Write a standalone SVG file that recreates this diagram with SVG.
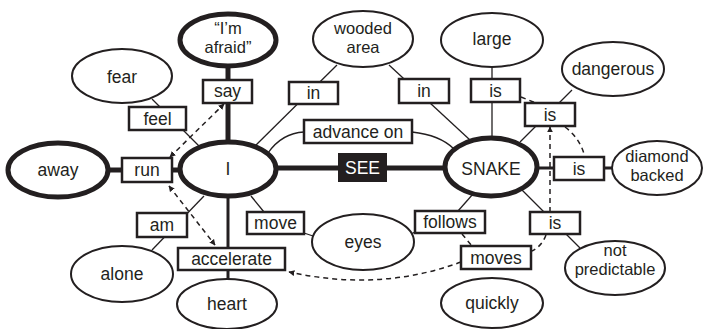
<svg xmlns="http://www.w3.org/2000/svg" width="704" height="329" viewBox="0 0 704 329">
<style>
text{font-family:"Liberation Sans",Arial,sans-serif;font-size:17.5px;fill:#231f20;text-anchor:middle}
text.two{font-size:16.5px}
.thin{fill:#fff;stroke:#231f20;stroke-width:2}
.thick{fill:#fff;stroke:#231f20;stroke-width:5}
.box{fill:#fff;stroke:#231f20;stroke-width:2.5}
.l{stroke:#231f20;stroke-width:1.3;fill:none}
.lm{stroke:#231f20;stroke-width:3;fill:none}
.lt{stroke:#231f20;stroke-width:5;fill:none}
.d{stroke:#231f20;stroke-width:1.5;fill:none;stroke-dasharray:5 4}
</style>
<defs>
<marker id="ah" viewBox="0 0 10 10" refX="9" refY="5" markerWidth="6" markerHeight="6" orient="auto-start-reverse" markerUnits="userSpaceOnUse">
<path d="M0,0 L10,5 L0,10 z" fill="#231f20"/>
</marker>
</defs>
<rect width="704" height="329" fill="#fff"/>
<g id="connectors">
<line class="lt" x1="108" y1="170" x2="180" y2="170"/>
<line class="lt" x1="276" y1="168" x2="445" y2="168"/>
<line class="lt" x1="228" y1="66" x2="228" y2="142"/>
<line class="lm" x1="228" y1="196" x2="228" y2="280"/>
<line class="lm" x1="537" y1="168" x2="612" y2="168"/>
<line class="l" x1="152" y1="99" x2="200" y2="147"/>
<line class="l" x1="337" y1="65" x2="255" y2="146"/>
<line class="l" x1="389" y1="65" x2="470" y2="140"/>
<line class="l" x1="492" y1="67" x2="492" y2="139"/>
<line class="l" x1="572" y1="90" x2="520" y2="142"/>
<path class="l" d="M268,153 Q282,133 304,132"/>
<path class="l" d="M412,132 Q440,135 454,149"/>
<line class="l" x1="473" y1="194" x2="458" y2="211"/>
<line class="l" x1="415" y1="232" x2="409" y2="235"/>
<line class="l" x1="522" y1="190" x2="580" y2="248"/>
<line class="l" x1="204" y1="196" x2="152" y2="250"/>
<line class="l" x1="251" y1="196" x2="264" y2="212"/>
<line class="l" x1="304" y1="233" x2="313" y2="236"/>
<line class="d" x1="170" y1="157" x2="224" y2="104" marker-start="url(#ah)" marker-end="url(#ah)"/>
<line class="d" x1="169" y1="186" x2="215" y2="245" marker-start="url(#ah)" marker-end="url(#ah)"/>
<path class="d" d="M461,262 Q380,292 289,272" marker-end="url(#ah)"/>
<line class="d" x1="462" y1="234" x2="472" y2="246"/>
<path class="d" d="M546,235 Q542,246 532,251"/>
<line class="d" x1="550" y1="212" x2="550" y2="127" marker-end="url(#ah)"/>
<line class="d" x1="521" y1="97" x2="536" y2="103"/>
<path class="d" d="M565,127 Q580,138 585,157"/>
</g>
<g id="node-afraid"><ellipse class="thick" cx="228" cy="40" rx="48" ry="26"/><text class="two" x="228" y="34">“I’m</text><text class="two" x="228" y="53">afraid”</text></g>
<g id="node-fear"><ellipse class="thin" cx="122" cy="76" rx="50" ry="27"/><text x="122" y="83">fear</text></g>
<g id="node-wooded"><ellipse class="thin" cx="363" cy="39" rx="50" ry="28"/><text class="two" x="363" y="34">wooded</text><text class="two" x="363" y="53">area</text></g>
<g id="node-large"><ellipse class="thin" cx="492" cy="40" rx="51" ry="27"/><text x="492" y="45">large</text></g>
<g id="node-dangerous"><ellipse class="thin" cx="613" cy="69" rx="51" ry="27"/><text x="613" y="75">dangerous</text></g>
<g id="node-diamond"><ellipse class="thin" cx="657" cy="168" rx="45" ry="27"/><text class="two" x="657" y="162">diamond</text><text class="two" x="657" y="181">backed</text></g>
<g id="node-snake"><ellipse class="thick" cx="491" cy="167" rx="46" ry="29"/><text x="491" y="175">SNAKE</text></g>
<g id="node-i"><ellipse class="thick" cx="228" cy="169" rx="48" ry="27"/><text x="228" y="175">I</text></g>
<g id="node-away"><ellipse class="thick" cx="58" cy="170" rx="50" ry="27"/><text x="58" y="176">away</text></g>
<g id="node-alone"><ellipse class="thin" cx="122" cy="274" rx="51" ry="28"/><text x="122" y="280">alone</text></g>
<g id="node-heart"><ellipse class="thin" cx="227" cy="304" rx="50" ry="25"/><text x="227" y="310">heart</text></g>
<g id="node-eyes"><ellipse class="thin" cx="363" cy="242" rx="51" ry="28"/><text x="363" y="248">eyes</text></g>
<g id="node-quickly"><ellipse class="thin" cx="492" cy="303" rx="51" ry="25"/><text x="492" y="309">quickly</text></g>
<g id="node-notpred"><ellipse class="thin" cx="615" cy="268" rx="50" ry="27"/><text class="two" x="615" y="256">not</text><text class="two" x="615" y="275">predictable</text></g>
<g id="label-say"><rect class="box" x="203" y="80" width="49" height="23"/><text x="227.5" y="97">say</text></g>
<g id="label-in-left"><rect class="box" x="289" y="82" width="49" height="22"/><text x="313.5" y="99">in</text></g>
<g id="label-feel"><rect class="box" x="129" y="107" width="57" height="23"/><text x="157.5" y="124.5">feel</text></g>
<g id="label-advance"><rect class="box" x="304" y="120" width="108" height="23"/><text x="358" y="137.5">advance on</text></g>
<g id="label-see"><rect x="338" y="153" width="49" height="29" fill="#231f20"/><text x="362.5" y="174" style="fill:#fff">SEE</text></g>
<g id="label-in-right"><rect class="box" x="399" y="79" width="50" height="24"/><text x="424" y="97">in</text></g>
<g id="label-is-large"><rect class="box" x="471" y="79" width="49" height="23"/><text x="495.5" y="96.5">is</text></g>
<g id="label-is-dangerous"><rect class="box" x="525" y="103" width="50" height="23"/><text x="550" y="120.5">is</text></g>
<g id="label-is-diamond"><rect class="box" x="554" y="157" width="50" height="23"/><text x="579" y="174.5">is</text></g>
<g id="label-run"><rect class="box" x="122" y="158" width="50" height="24"/><text x="147" y="176">run</text></g>
<g id="label-am"><rect class="box" x="137" y="213" width="50" height="24"/><text x="162" y="231">am</text></g>
<g id="label-move"><rect class="box" x="247" y="212" width="57" height="22"/><text x="275.5" y="229">move</text></g>
<g id="label-accelerate"><rect class="box" x="178" y="248" width="107" height="22"/><text x="231.5" y="265">accelerate</text></g>
<g id="label-follows"><rect class="box" x="415" y="211" width="70" height="22"/><text x="450" y="228">follows</text></g>
<g id="label-is-np"><rect class="box" x="530" y="212" width="50" height="22"/><text x="555" y="229">is</text></g>
<g id="label-moves"><rect class="box" x="461" y="246" width="70" height="23"/><text x="496" y="263.5">moves</text></g>
</svg>
